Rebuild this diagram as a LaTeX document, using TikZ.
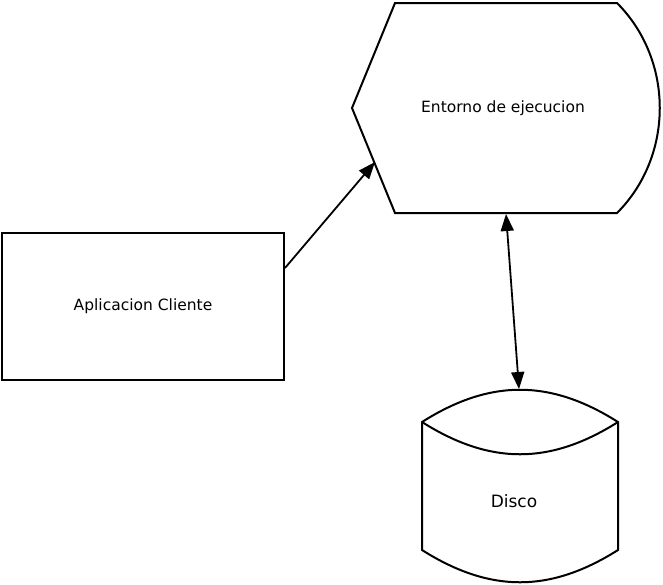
\documentclass[tikz,border=0pt]{standalone}
\usepackage{fontspec}
\setmainfont{DejaVu Sans}
\usetikzlibrary{arrows.meta}
\begin{document}
\begin{tikzpicture}[x=1pt,y=-1pt,
  shapeline/.style={draw=black,line width=2pt,line join=miter},
  lbl/.style={font=\fontsize{15.5}{18}\selectfont,inner sep=0pt},
  conn/.style={line width=1.8pt,-{Triangle[length=17pt,width=13pt]}},
  bconn/.style={line width=1.8pt,{Triangle[length=17pt,width=13pt]}-{Triangle[length=17pt,width=13pt]}}]
\useasboundingbox (0,0) rectangle (663,584);
% client box
\node[shapeline,minimum width=282pt,minimum height=147pt,inner sep=0pt] (app) at (143,306.5) {};
\node[lbl] (applbl) at (143,306) {Aplicacion Cliente};
% runtime environment shape
\draw[shapeline] (395,3) -- (617,3) .. controls (674,60) and (674,156) .. (617,213) -- (395,213) -- (352,108) -- cycle;
\node[lbl] (envlbl) at (503,108) {Entorno de ejecucion};
\coordinate (envleft) at (375,162);
\coordinate (envbottom) at (506,214);
% disk cylinder
\draw[shapeline] (422,422) .. controls (490,379) and (550,379) .. (618,422)
  -- (618,550) .. controls (550,593) and (490,593) .. (422,550) -- cycle;
\draw[shapeline] (422,422) .. controls (490,465) and (550,465) .. (618,422);
\node[lbl,font=\fontsize{17}{20}\selectfont] (disklbl) at (514,501) {Disco};
\coordinate (disktop) at (519,389);
% connectors
\coordinate (appout) at (285,268);
\draw[conn] (appout) -- (envleft);
\draw[bconn] (envbottom) -- (disktop);
\end{tikzpicture}
\end{document}
